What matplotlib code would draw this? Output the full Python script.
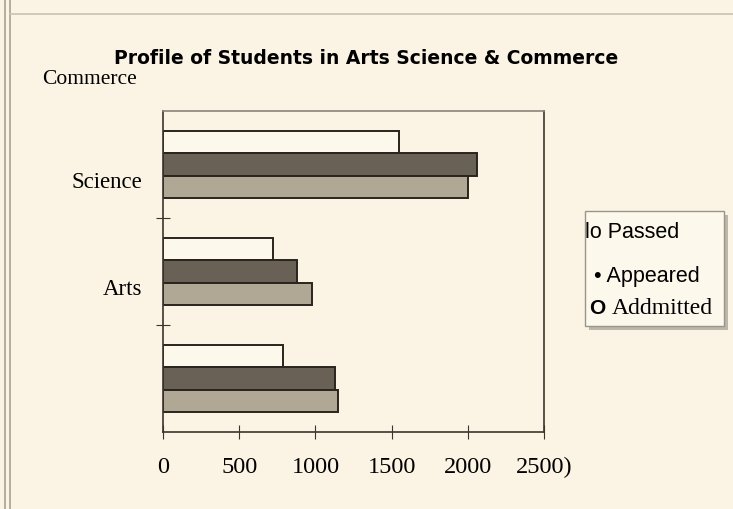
import numpy as np
import matplotlib.pyplot as plt
from matplotlib.patches import Rectangle

# groups listed bottom to top as matplotlib draws them
streams = ["Commerce", "Arts", "Science"]
passed = [790, 720, 1550]
appeared = [1130, 880, 2060]
admitted = [1150, 980, 2000]
x_ticks = [0, 500, 1000, 1500, 2000, 2500]
x_labels = ["0", "500", "1000", "1500", "2000", "2500)"]

bg = "#fbf4e4"
fig = plt.figure(figsize=(7.33, 5.10), dpi=100, facecolor=bg)
ax = fig.add_axes([0.2224, 0.151, 0.5198, 0.6294], facecolor=bg)

y = np.arange(len(streams))
h = 0.21
ax.barh(y + h, passed, height=h, color="#fdf8ec", edgecolor="#2a241e", linewidth=1.4)
ax.barh(y, appeared, height=h, color="#696155", edgecolor="#2a241e", linewidth=1.4)
ax.barh(y - h, admitted, height=h, color="#b0a895", edgecolor="#2a241e", linewidth=1.4)

ax.set_xlim(0, 2500)
ax.set_ylim(-0.5, 2.5)
ax.set_xticks(x_ticks)
ax.set_xticklabels(x_labels, fontfamily="Liberation Serif", fontsize=17.5)
# tick marks sit between the groups, labels a little below group centres
ax.set_yticks([0.5, 1.5])
ax.set_yticklabels([])
ax.set_yticks(y - 0.14, minor=True)
ax.set_yticklabels(["", "Arts", "Science"], minor=True,
                   fontfamily="Liberation Serif", fontsize=16.5)
ax.tick_params(axis="y", which="minor", length=0, pad=15)
ax.tick_params(axis="y", which="major", direction="inout", length=10, color="#3a342c")
ax.tick_params(axis="x", direction="inout", length=10, color="#3a342c", pad=12)
for s in ax.spines.values():
    s.set_color("#3a342c")
    s.set_linewidth(1.2)
ax.spines["top"].set_color("#8a847a")

fig.text(366 / 733, 1 - 58 / 510, "Profile of Students in Arts Science & Commerce",
         ha="center", va="center", fontsize=13.5, fontweight="bold", fontfamily="DejaVu Sans")
fig.text(42 / 733, 1 - 80 / 510, "Commerce", ha="left", va="center",
         fontsize=15.5, fontfamily="Liberation Serif")

# legend box drawn as plain text, like the scanned original
lx, ly, lw, lh = 585 / 733, 1 - 327 / 510, 139 / 733, 115 / 510
fig.patches.append(Rectangle((lx + 0.005, ly - 0.007), lw, lh, transform=fig.transFigure,
                             facecolor="#bdb6aa", edgecolor="none"))
fig.patches.append(Rectangle((lx, ly), lw, lh, transform=fig.transFigure,
                             facecolor="#fdf8ec", edgecolor="#9a948a", linewidth=1))
fig.text(585 / 733, 1 - 233 / 510, "lo Passed", ha="left", va="center",
         fontsize=15.5, fontfamily="Liberation Sans")
fig.text(594 / 733, 1 - 277 / 510, "• Appeared", ha="left", va="center",
         fontsize=15.5, fontfamily="Liberation Sans")
fig.text(589 / 733, 1 - 309 / 510, "O", ha="left", va="center",
         fontsize=15, fontweight="bold", fontfamily="Liberation Sans")
fig.text(612 / 733, 1 - 309 / 510, "Addmitted", ha="left", va="center",
         fontsize=17, fontfamily="Liberation Serif")

# scan page edges
for px in (5, 10):
    fig.add_artist(plt.Line2D([px / 733, px / 733], [0, 1], transform=fig.transFigure,
                              color="#a8a296", linewidth=1.2))
fig.add_artist(plt.Line2D([10 / 733, 1], [1 - 15 / 510, 1 - 15 / 510], transform=fig.transFigure,
                          color="#c9c2b4", linewidth=1.2))

fig.savefig("out.png", dpi=100, facecolor=bg)
